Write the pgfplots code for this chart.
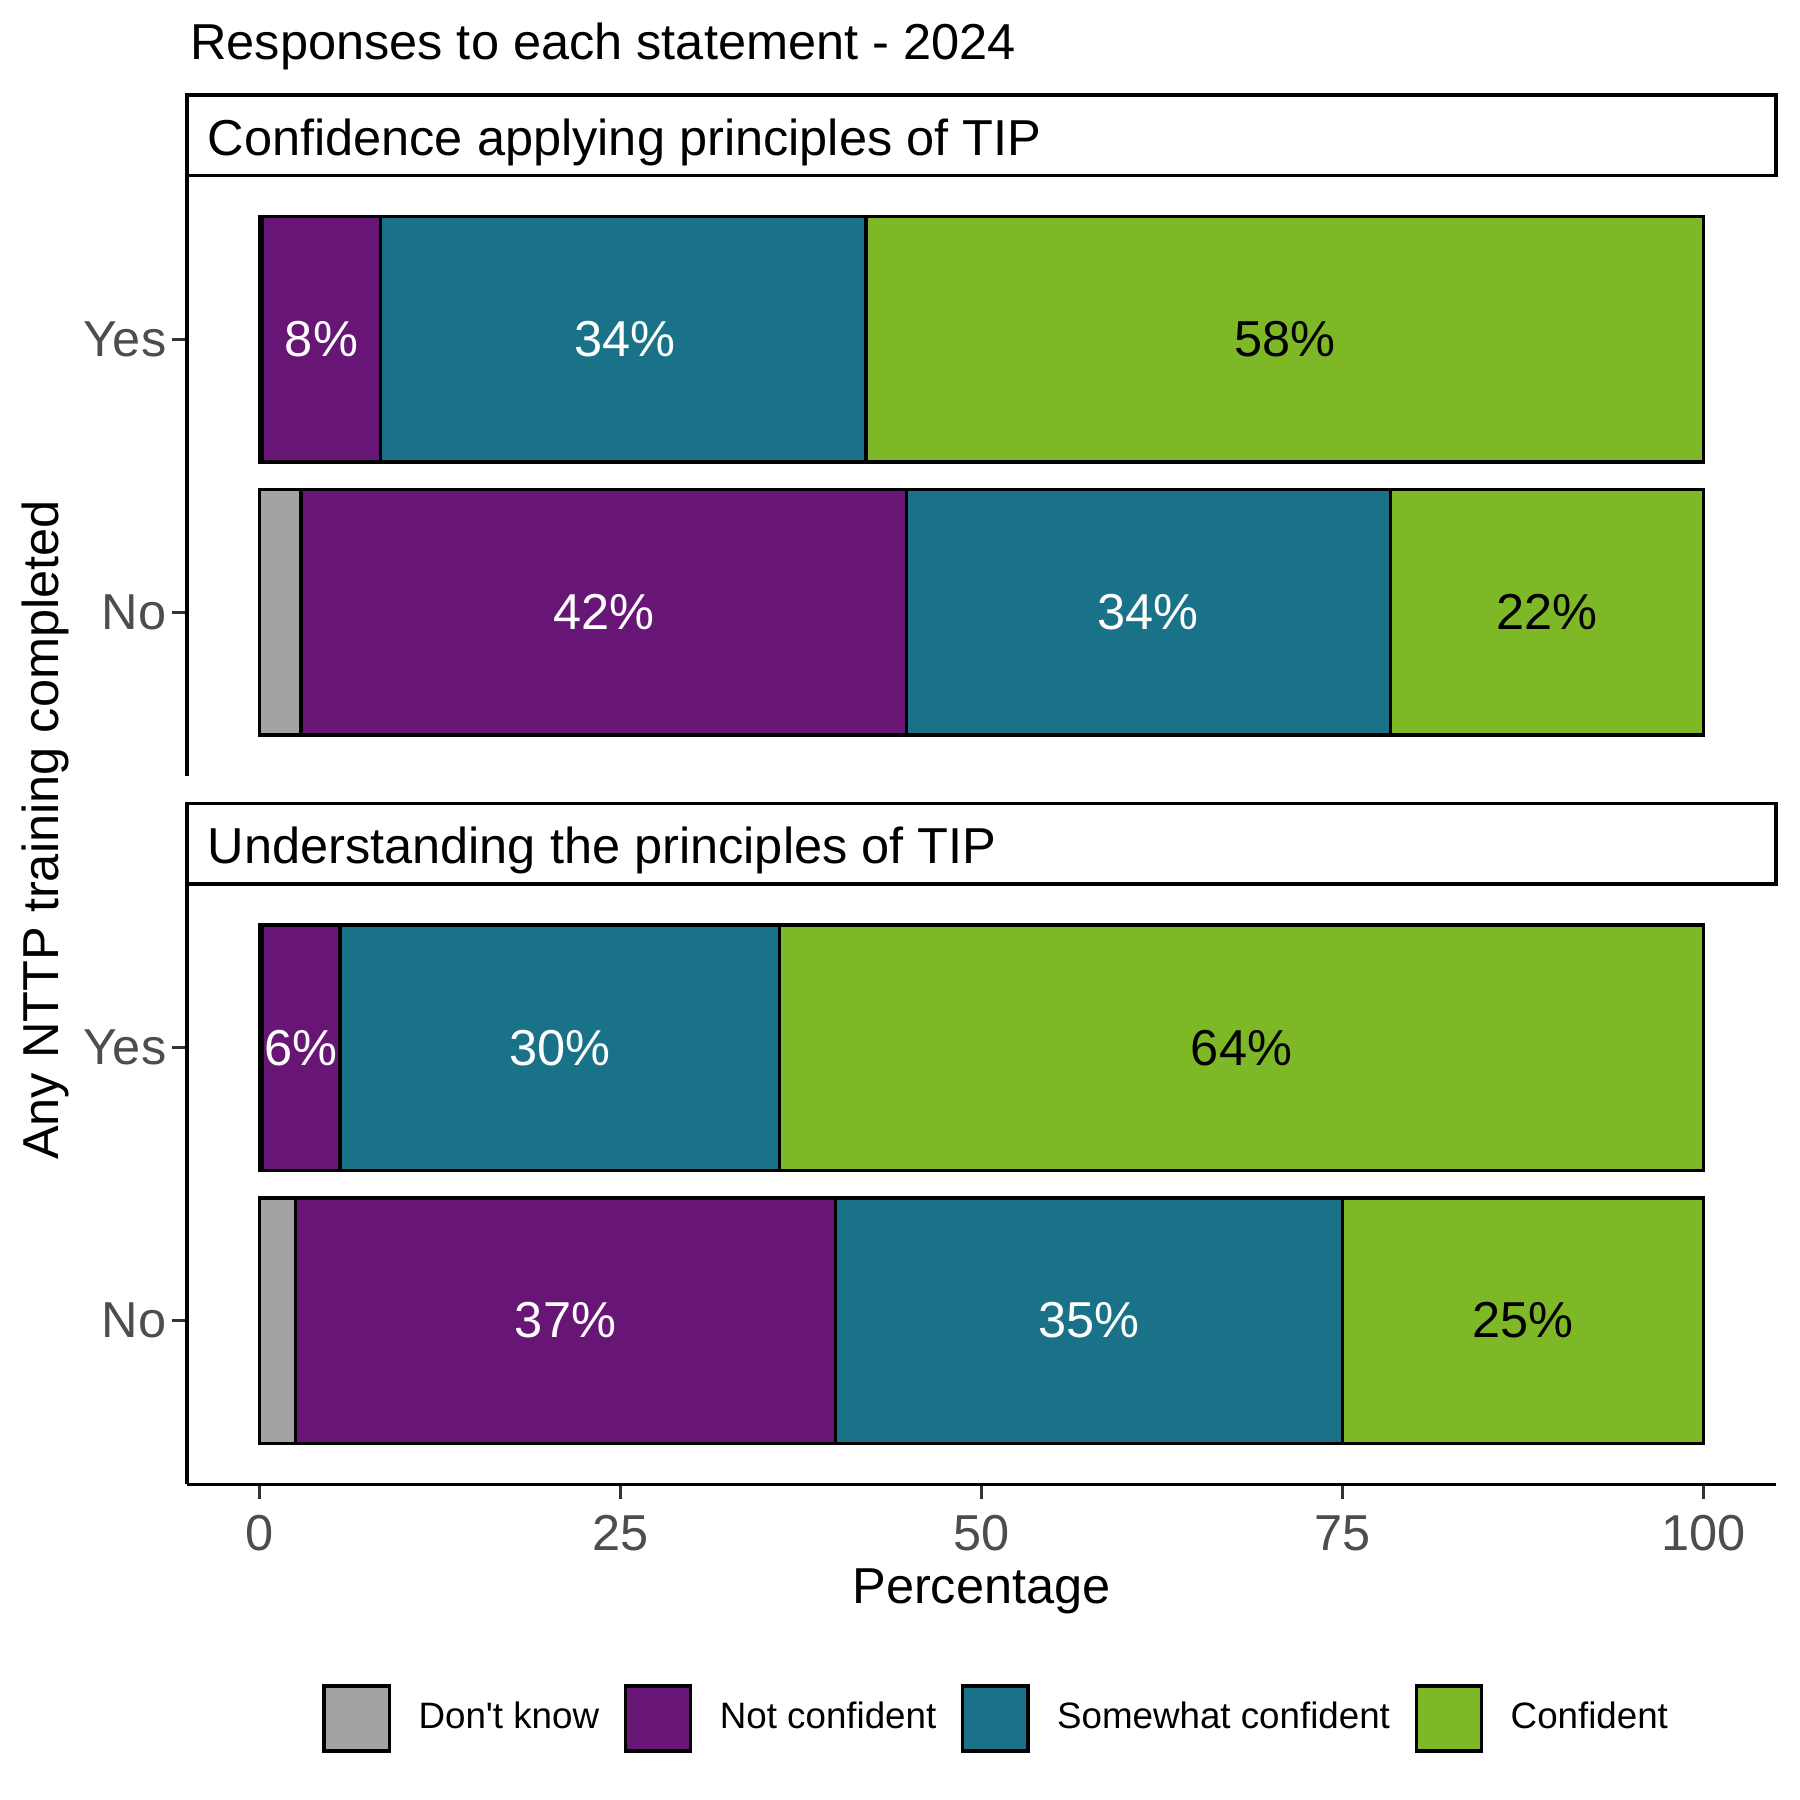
\documentclass[border=0pt]{standalone}
\usepackage{pgfplots}
\pgfplotsset{compat=1.18}
\usepackage{fontspec}
\setmainfont{Liberation Sans}
\definecolor{cDK}{HTML}{A3A3A3}
\definecolor{cNC}{HTML}{681675}
\definecolor{cSC}{HTML}{1A7289}
\definecolor{cC}{HTML}{7FB826}
\definecolor{ticktext}{HTML}{4D4D4D}
\definecolor{tickline}{HTML}{333333}
\newcommand{\bigf}{\fontsize{11}{13}\selectfont}
\pgfplotsset{
  seg/.style={fill=#1, draw=black, line width=0.75pt,
    legend image code/.code={\draw[##1, line width=0.75pt] (0pt,-7.1pt) rectangle (14.2pt,7.1pt);}},
  panel/.style={
    scale only axis, width=346pt, height=130.75pt,
    xmin=-5, xmax=105, ymin=0.4, ymax=2.6,
    xbar stacked, bar width=0.9,
    ytick={1,2}, yticklabels={No,Yes},
    axis y line*=left, axis line style={-, line width=0.75pt, black},
    tick align=outside, major tick length=3.25pt,
    tick style={tickline, line width=0.75pt},
    yticklabel style={font=\bigf, text=ticktext, xshift=2.25pt},
    xticklabel style={font=\bigf, text=ticktext},
    /pgf/number format/assume math mode=true,
    anchor=north west, clip=false,
  },
  labs/.style={
    scale only axis, width=346pt, height=130.75pt,
    xmin=-5, xmax=105, ymin=0.4, ymax=2.6, axis lines=none,
    anchor=north west, clip=false,
    nodes near coords, point meta=explicit symbolic,
    every node near coord/.append style={anchor=center, font=\bigf},
  },
}
\begin{document}
\begin{tikzpicture}
\useasboundingbox (0pt,0pt) rectangle (392pt,-392pt);
% Panel 1
\begin{axis}[panel, at={(40.75pt,-38.25pt)}, axis x line=none]
\addplot[seg=cDK] coordinates {(2.9,1) (0.2,2)};
\addplot[seg=cNC] coordinates {(41.9,1) (8.2,2)};
\addplot[seg=cSC] coordinates {(33.5,1) (33.6,2)};
\addplot[seg=cC] coordinates {(21.7,1) (58.0,2)};
\end{axis}
\begin{axis}[labs, at={(40.75pt,-38.25pt)}]
\addplot[draw=none, mark=none, every node near coord/.append style={text=white}] coordinates {(4.3,2)[8\%] (25.3,2)[34\%] (23.85,1)[42\%] (61.55,1)[34\%]};
\addplot[draw=none, mark=none, every node near coord/.append style={text=black}] coordinates {(71.0,2)[58\%] (89.15,1)[22\%]};
\end{axis}
% Panel 2
\begin{axis}[panel, at={(40.75pt,-192.5pt)}, axis x line*=bottom,
  xtick={0,25,50,75,100},
  legend columns=4,
  legend style={at={(rel axis cs:0.5115,-0.39)}, anchor=center, draw=none,
    font=\fontsize{8}{9.6}\selectfont, inner sep=0pt,
    /tikz/every odd column/.append style={column sep=4pt},
    /tikz/every even column/.append style={column sep=3.35pt}},
  legend cell align=left]
\addplot[seg=cDK] coordinates {(2.5,1) (0.2,2)};
\addplot[seg=cNC] coordinates {(37.4,1) (5.4,2)};
\addplot[seg=cSC] coordinates {(35.1,1) (30.4,2)};
\addplot[seg=cC] coordinates {(25.0,1) (64.0,2)};
\legend{Don\textquotesingle t know, Not confident, Somewhat confident, Confident}
\end{axis}
\begin{axis}[labs, at={(40.75pt,-192.5pt)}]
\addplot[draw=none, mark=none, every node near coord/.append style={text=white}] coordinates {(2.9,2)[6\%] (20.8,2)[30\%] (21.2,1)[37\%] (57.45,1)[35\%]};
\addplot[draw=none, mark=none, every node near coord/.append style={text=black}] coordinates {(68.0,2)[64\%] (87.5,1)[25\%]};
\end{axis}
% strips
\draw[line width=0.8pt] (40.75pt,-20.75pt) rectangle (386.75pt,-38.25pt);
\draw[line width=0.8pt] (40.75pt,-175pt) rectangle (386.75pt,-192.5pt);
\node[anchor=base west, inner sep=0pt, font=\bigf] at (45pt,-33.9pt) {Confidence applying principles of TIP};
\node[anchor=base west, inner sep=0pt, font=\bigf] at (45pt,-188pt) {Understanding the principles of TIP};
% title and axis titles
\node[anchor=base west, inner sep=0pt, font=\bigf] at (41.25pt,-13pt) {Responses to each statement - 2024};
\node[anchor=base, inner sep=0pt, font=\bigf] at (213.75pt,-349.25pt) {Percentage};
\node[rotate=90, inner sep=0pt, font=\bigf] at (10pt,-180.75pt) {Any NTTP training completed};
\end{tikzpicture}
\end{document}
